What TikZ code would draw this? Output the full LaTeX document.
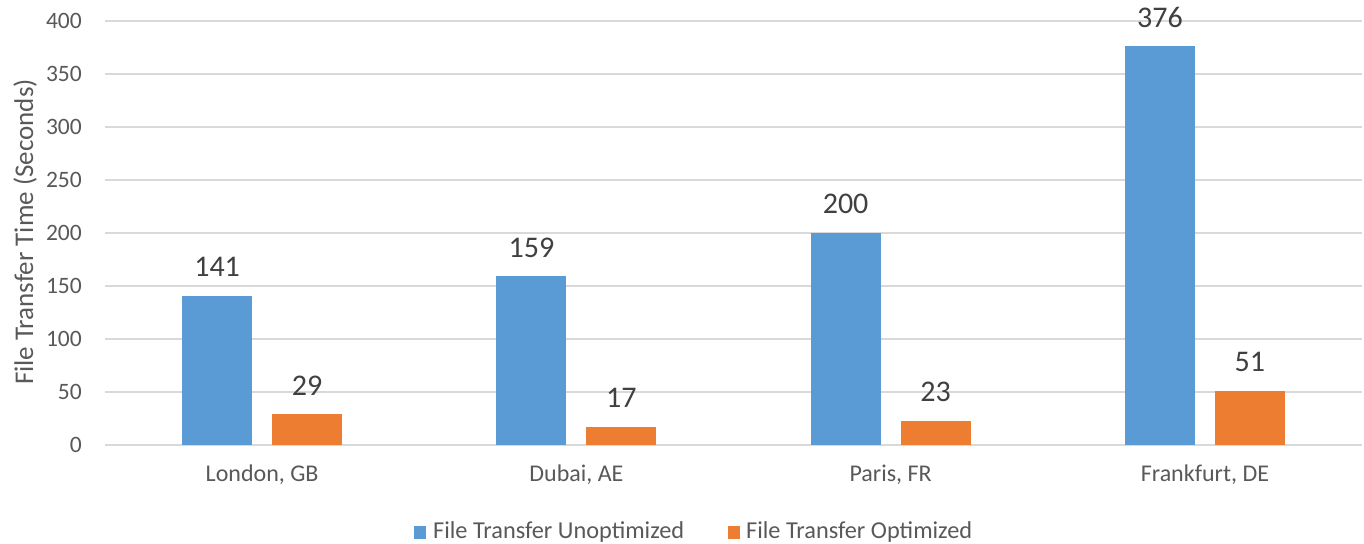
\documentclass[tikz,border=0pt]{standalone}
\usepackage{fontspec}
\setmainfont{Carlito}
\definecolor{cblue}{HTML}{5B9BD5}
\definecolor{corange}{HTML}{ED7D31}
\definecolor{cgrid}{HTML}{D9D9D9}
\definecolor{ctext}{HTML}{595959}
\definecolor{cval}{HTML}{404040}
\begin{document}
\begin{tikzpicture}[x=1pt,y=1pt,
  grid/.style={draw=cgrid,line width=1.5pt},
  tick/.style={anchor=east,text=ctext,font=\fontsize{23.5}{26}\selectfont,inner sep=0pt},
  cat/.style={anchor=base,text=ctext,font=\fontsize{24}{27}\selectfont,inner sep=0pt},
  val/.style={anchor=base,text=cval,font=\fontsize{30}{34}\selectfont,inner sep=0pt},
  ubar/.style={fill=cblue,draw=none},
  obar/.style={fill=corange,draw=none},
  leg/.style={anchor=west,text=ctext,font=\fontsize{24.3}{27}\selectfont,inner sep=0pt}]
\useasboundingbox[fill=white] (0,0) rectangle (1364,543);
% gridlines and ticks: y(v) = 98 + v*1.06
\foreach \v in {0,50,...,400}{
  \draw[grid] (105,{98+\v*1.06}) -- (1362,{98+\v*1.06});
  \node[tick] (t\v) at (82,{98+\v*1.06}) {\v};
}
\node[rotate=90,text=ctext,font=\fontsize{27}{30}\selectfont,inner sep=0pt] (ylab) at (25,311) {File Transfer Time (Seconds)};
% bars
\foreach \c/\name/\u/\o [count=\i] in {262.1/{London, GB}/141/29, 576.4/{Dubai, AE}/159/17, 890.6/{Paris, FR}/200/23, 1204.9/{Frankfurt, DE}/376/51}{
  \fill[ubar] ({\c-80},98) rectangle ({\c-10},{98+\u*1.06});
  \fill[obar] ({\c+10},98) rectangle ({\c+80},{98+\o*1.06});
  \node[val] (u\i) at ({\c-45},{98+\u*1.06+19}) {\u};
  \node[val] (o\i) at ({\c+45},{98+\o*1.06+19}) {\o};
  \node[cat] (c\i) at (\c,61) {\name};
}
% legend
\fill[cblue] (414,4) rectangle (426,17);
\node[leg] (l1) at (433,11) {File Transfer Unoptimized};
\fill[corange] (728,4) rectangle (740,17);
\node[leg] (l2) at (746,11) {File Transfer Optimized};
\end{tikzpicture}
\end{document}
